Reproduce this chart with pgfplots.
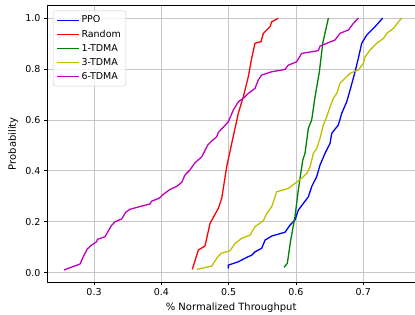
\documentclass[border=0pt]{standalone}
\usepackage{fontspec}
\setmainfont{DejaVu Sans}
\usepackage{pgfplots}
\pgfplotsset{compat=1.18}
\definecolor{mplb}{rgb}{0,0,1}
\definecolor{mplr}{rgb}{1,0,0}
\definecolor{mplg}{rgb}{0,0.5,0}
\definecolor{mply}{rgb}{0.75,0.75,0}
\definecolor{mplm}{rgb}{0.75,0,0.75}
\newcommand{\ff}{\fontsize{9.5}{11}\selectfont}
\begin{document}
\begin{tikzpicture}
\useasboundingbox (0,0) rectangle (415pt,314pt);
\begin{axis}[
  at={(47.3pt,32pt)}, anchor=south west,
  scale only axis, width=372.5pt, height=276.7pt,
  xmin=0.2306, xmax=0.784, ymin=-0.0365, ymax=1.05,
  xtick={0.3,0.4,0.5,0.6,0.7},
  xticklabels={0.3,0.4,0.5,0.6,0.7},
  ytick={0,0.2,0.4,0.6,0.8,1.0},
  yticklabels={0.0,0.2,0.4,0.6,0.8,1.0},
  /pgf/number format/assume math mode=true,
  tick label style={font=\ff},
  tick align=outside, tick pos=left,
  major tick length=3.3pt,
  every tick/.style={black, line width=0.75pt},
  axis line style={line width=0.75pt},
  grid=major, grid style={color=black!22, line width=0.75pt},
  xlabel={\% Normalized Throughput}, ylabel={Probability},
  label style={font=\ff},
  every axis x label/.style={at={(axis description cs:0.4935,0)}, yshift=-25.7pt, anchor=center},
  every axis y label/.style={at={(axis description cs:0,0.5)}, xshift=-34.3pt, rotate=90, anchor=center},
  legend style={at={(axis description cs:0,1)}, anchor=north west, xshift=5.7pt, yshift=-5.4pt,
    draw=black!20, rounded corners=2pt, fill=white, fill opacity=0.8, text opacity=1,
    font=\ff, row sep=1.6pt, inner xsep=3pt, inner ysep=3pt},
  legend cell align=left,
  legend image code/.code={\draw[#1, line width=1.3pt] (0pt,0pt) -- (22pt,0pt);},
]
\addplot[mplb, line width=1.3pt] coordinates {
(0.4996,0.017)(0.4996,0.030)(0.5144,0.043)(0.5244,0.057)(0.5343,0.069)(0.5392,0.082)
(0.5491,0.096)(0.5541,0.128)(0.5640,0.144)(0.5838,0.159)(0.5912,0.187)(0.5986,0.207)
(0.6036,0.246)(0.6110,0.272)(0.6184,0.298)(0.6234,0.338)(0.6308,0.377)(0.6358,0.423)
(0.6432,0.469)(0.6507,0.508)(0.6531,0.547)(0.6630,0.580)(0.6680,0.626)(0.6754,0.671)
(0.6804,0.717)(0.6878,0.789)(0.6927,0.842)(0.6977,0.901)(0.7051,0.933)(0.7175,0.966)
(0.7289,1.000)};
\addlegendentry{PPO}
\addplot[mplr, line width=1.3pt] coordinates {
(0.4460,0.013)(0.4550,0.089)(0.4649,0.105)(0.4724,0.194)(0.4847,0.253)(0.4897,0.292)
(0.4971,0.416)(0.5046,0.508)(0.5095,0.567)(0.5144,0.626)(0.5218,0.691)(0.5293,0.770)
(0.5342,0.842)(0.5392,0.901)(0.5480,0.907)(0.5516,0.940)(0.5615,0.966)(0.5640,0.985)
(0.5738,0.999)};
\addlegendentry{Random}
\addplot[mplg, line width=1.3pt] coordinates {
(0.5823,0.021)(0.5872,0.037)(0.5922,0.128)(0.5986,0.220)(0.6035,0.325)(0.6101,0.442)
(0.6135,0.469)(0.6184,0.567)(0.6234,0.600)(0.6284,0.691)(0.6348,0.789)(0.6398,0.901)
(0.6482,1.000)};
\addlegendentry{1-TDMA}
\addplot[mply, line width=1.3pt] coordinates {
(0.4525,0.013)(0.4749,0.026)(0.4823,0.057)(0.4887,0.076)(0.5020,0.086)(0.5095,0.115)
(0.5194,0.135)(0.5318,0.148)(0.5392,0.181)(0.5516,0.204)(0.5566,0.233)(0.5640,0.259)
(0.5714,0.318)(0.5838,0.327)(0.5887,0.331)(0.5986,0.351)(0.6086,0.371)(0.6160,0.390)
(0.6210,0.416)(0.6259,0.469)(0.6308,0.488)(0.6358,0.528)(0.6407,0.580)(0.6457,0.612)
(0.6507,0.652)(0.6556,0.685)(0.6606,0.704)(0.6655,0.744)(0.6754,0.770)(0.6804,0.783)
(0.6928,0.796)(0.7002,0.822)(0.7027,0.848)(0.7101,0.874)(0.7200,0.901)(0.7300,0.920)
(0.7350,0.940)(0.7449,0.960)(0.7523,0.985)(0.7573,1.000)};
\addlegendentry{3-TDMA}
\addplot[mplm, line width=1.3pt] coordinates {
(0.2554,0.011)(0.2792,0.034)(0.2841,0.063)(0.2900,0.093)(0.2966,0.109)(0.3040,0.122)
(0.3050,0.131)(0.3163,0.141)(0.3213,0.164)(0.3253,0.183)(0.3312,0.200)(0.3411,0.211)
(0.3470,0.237)(0.3535,0.249)(0.3658,0.258)(0.3832,0.270)(0.3857,0.281)(0.3966,0.292)
(0.4030,0.308)(0.4130,0.327)(0.4229,0.339)(0.4303,0.355)(0.4352,0.384)(0.4426,0.404)
(0.4501,0.432)(0.4600,0.455)(0.4689,0.501)(0.4749,0.517)(0.4823,0.534)(0.4847,0.551)
(0.4921,0.571)(0.4996,0.593)(0.5070,0.639)(0.5144,0.671)(0.5218,0.685)(0.5293,0.704)
(0.5392,0.724)(0.5441,0.757)(0.5490,0.776)(0.5639,0.789)(0.5837,0.798)(0.5886,0.815)
(0.6010,0.828)(0.6084,0.861)(0.6333,0.872)(0.6358,0.890)(0.6581,0.914)(0.6655,0.940)
(0.6779,0.953)(0.6853,0.979)(0.6928,1.000)};
\addlegendentry{6-TDMA}
\end{axis}
\end{tikzpicture}
\end{document}
